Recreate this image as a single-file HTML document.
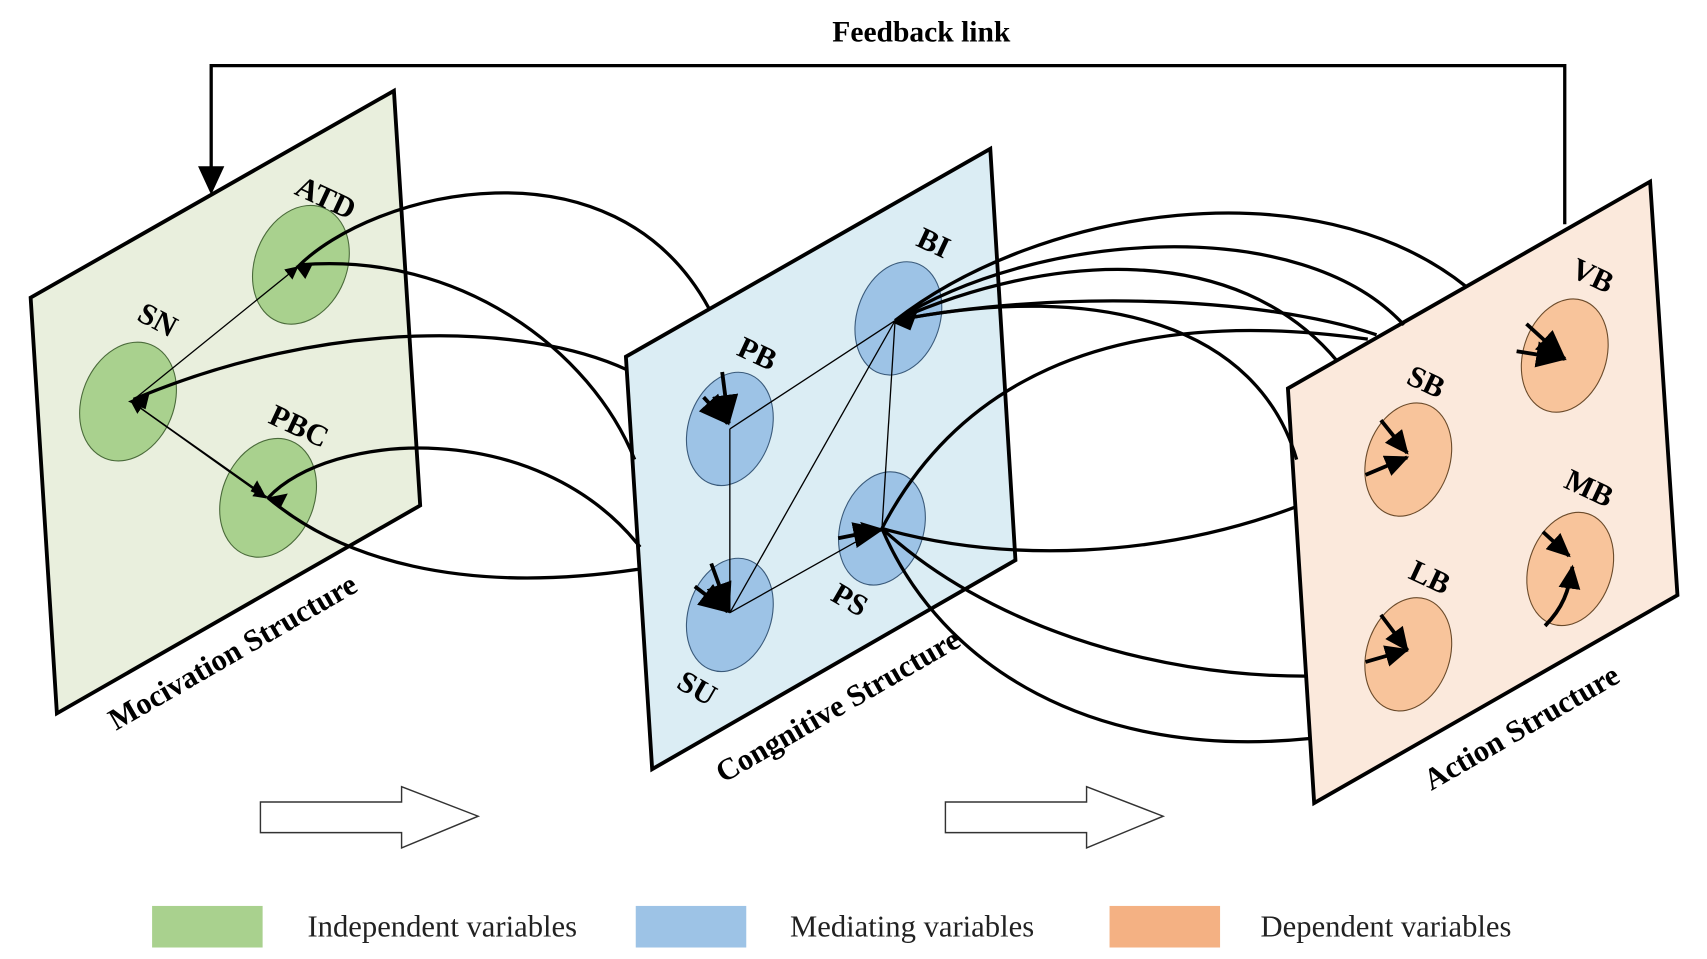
<!DOCTYPE html>
<html><head><meta charset="utf-8"><style>
html,body{margin:0;padding:0;background:#fff;}
svg{display:block;}
text{font-family:"Liberation Serif",serif;}
</style></head><body>
<svg width="1707" height="959" viewBox="0 0 1560 876.5" preserveAspectRatio="none" xmlns="http://www.w3.org/2000/svg">
<defs>
<marker id="ah" markerWidth="12" markerHeight="12" refX="11" refY="6" orient="auto" markerUnits="userSpaceOnUse"><path d="M0,0 L12,6 L0,12 z" fill="#000"/></marker>
<marker id="big" markerWidth="28" markerHeight="24" refX="26" refY="12" orient="auto" markerUnits="userSpaceOnUse"><path d="M0,0 L28,12 L0,24 z" fill="#000"/></marker>
<marker id="mid" markerWidth="22" markerHeight="20" refX="20" refY="10" orient="auto" markerUnits="userSpaceOnUse"><path d="M0,0 L22,10 L0,20 z" fill="#000"/></marker>
</defs>

<text x="842" y="38" font-size="27" font-weight="bold" text-anchor="middle">Feedback link</text>
<polyline points="1430,205 1430,60 193,60 193,160" fill="none" stroke="#000" stroke-width="3"/>
<path d="M181,152 L205,152 L193,178 z" fill="#000"/>

<polygon points="28,272 360,83 384,462 52,652" fill="#e9efdd" stroke="#000" stroke-width="3.5"/>
<polygon points="572,326 905,136 928,512 596,703" fill="#dbedf4" stroke="#000" stroke-width="3.5"/>
<polygon points="1177,355 1508,166 1533,544 1201,734" fill="#fbe9dc" stroke="#000" stroke-width="3.5"/>

<ellipse cx="275" cy="242" rx="42" ry="56" transform="rotate(22 275 242)" fill="#a9d18e" stroke="#4a6a3a" stroke-width="1"/>
<ellipse cx="117" cy="367" rx="42" ry="56" transform="rotate(22 117 367)" fill="#a9d18e" stroke="#4a6a3a" stroke-width="1"/>
<ellipse cx="245" cy="455" rx="42" ry="56" transform="rotate(22 245 455)" fill="#a9d18e" stroke="#4a6a3a" stroke-width="1"/>
<ellipse cx="667" cy="392" rx="38" ry="53" transform="rotate(18 667 392)" fill="#9dc3e6" stroke="#3a5a7a" stroke-width="1"/>
<ellipse cx="821" cy="291" rx="38" ry="53" transform="rotate(18 821 291)" fill="#9dc3e6" stroke="#3a5a7a" stroke-width="1"/>
<ellipse cx="667" cy="562" rx="38" ry="53" transform="rotate(18 667 562)" fill="#9dc3e6" stroke="#3a5a7a" stroke-width="1"/>
<ellipse cx="806" cy="483" rx="38" ry="53" transform="rotate(18 806 483)" fill="#9dc3e6" stroke="#3a5a7a" stroke-width="1"/>
<ellipse cx="1287" cy="420" rx="38" ry="53" transform="rotate(18 1287 420)" fill="#f8c49b" stroke="#6a4a2a" stroke-width="1"/>
<ellipse cx="1430" cy="325" rx="38" ry="53" transform="rotate(18 1430 325)" fill="#f8c49b" stroke="#6a4a2a" stroke-width="1"/>
<ellipse cx="1287" cy="598" rx="38" ry="53" transform="rotate(18 1287 598)" fill="#f8c49b" stroke="#6a4a2a" stroke-width="1"/>
<ellipse cx="1435" cy="520" rx="38" ry="53" transform="rotate(18 1435 520)" fill="#f8c49b" stroke="#6a4a2a" stroke-width="1"/>

<g stroke="#000" stroke-width="1.2" fill="none">
<line x1="120" y1="367" x2="272" y2="244" marker-end="url(#ah)"/>
<line x1="245" y1="455" x2="120" y2="367" marker-end="url(#ah)"/>
<line x1="120" y1="367" x2="243" y2="455" marker-end="url(#ah)"/>
<line x1="667" y1="392" x2="818" y2="293"/>
<line x1="667" y1="392" x2="667" y2="560"/>
<line x1="667" y1="560" x2="818" y2="293"/>
<line x1="667" y1="560" x2="804" y2="483"/>
<line x1="806" y1="483" x2="818" y2="293"/>
</g>

<g stroke="#000" stroke-width="3" fill="none">
<path d="M272,244 C340,175 560,120 648,282"/>
<path d="M275,242 C420,230 540,320 580,420"/>
<path d="M573,338 C480,295 300,290 122,365"/>
<path d="M245,455 C300,395 490,380 585,500"/>
<path d="M245,455 C310,510 420,545 585,520"/>
<path d="M818,293 C950,190 1200,150 1340,262"/>
<path d="M818,293 C950,210 1190,195 1283,297"/>
<path d="M818,293 C960,230 1130,220 1222,330"/>
<path d="M818,293 C960,265 1150,270 1258,306"/>
<path d="M818,293 C1010,255 1150,300 1185,420"/>
<path d="M806,483 C870,360 1000,275 1250,310"/>
<path d="M806,483 C920,515 1060,510 1185,463"/>
<path d="M806,483 C900,570 1050,618 1193,618"/>
<path d="M806,483 C860,610 1000,695 1197,675"/>
</g>
<path d="M270,243 l16,-2 l-7,14 z" fill="#000"/>
<path d="M117,367 l20,-9 l-4,16 z" fill="#000"/>
<path d="M243,455 l-14,-6 l6,-10 z" fill="#000"/>
<path d="M243,455 l20,-4 l-7,14 z" fill="#000"/>
<path d="M816,295 l22,-9 l-6,16 z" fill="#000"/>
<path d="M806,483 l-20,-6 l6,12 z" fill="#000"/>

<g stroke="#000" stroke-width="3.5" fill="none">
<line x1="660" y1="340" x2="666" y2="387" marker-end="url(#big)"/>
<line x1="643" y1="363" x2="665" y2="387" marker-end="url(#big)"/>
<line x1="650" y1="515" x2="666" y2="559" marker-end="url(#big)"/>
<line x1="635" y1="536" x2="665" y2="559" marker-end="url(#big)"/>
<line x1="766" y1="492" x2="806" y2="484" marker-end="url(#big)"/>
<line x1="1395" y1="296" x2="1430" y2="328" marker-end="url(#big)"/>
<line x1="1386" y1="321" x2="1430" y2="328" marker-end="url(#big)"/>
<line x1="1262" y1="384" x2="1286" y2="414" marker-end="url(#mid)"/>
<line x1="1248" y1="434" x2="1286" y2="418" marker-end="url(#mid)"/>
<line x1="1262" y1="562" x2="1286" y2="594" marker-end="url(#mid)"/>
<line x1="1248" y1="605" x2="1286" y2="594" marker-end="url(#mid)"/>
<line x1="1410" y1="486" x2="1434" y2="508" marker-end="url(#mid)"/>
<path d="M1412,572 C1428,556 1434,540 1437,518" marker-end="url(#mid)"/>
</g>

<g font-size="28" font-weight="bold">
<text transform="translate(268,177) rotate(25)">ATD</text>
<text transform="translate(124,292) rotate(28)">SN</text>
<text transform="translate(244,386) rotate(25)">PBC</text>
<text transform="translate(672,324) rotate(25)">PB</text>
<text transform="translate(836,224) rotate(25)">BI</text>
<text transform="translate(617,628) rotate(30)">SU</text>
<text transform="translate(758,548) rotate(30)">PS</text>
<text transform="translate(1284,350) rotate(25)">SB</text>
<text transform="translate(1434,252) rotate(25)">VB</text>
<text transform="translate(1286,528) rotate(25)">LB</text>
<text transform="translate(1428,445) rotate(25)">MB</text>
</g>
<g font-size="28" font-weight="bold">
<text transform="translate(106,668) rotate(-30)">Mocivation Structure</text>
<text transform="translate(661,716) rotate(-30)">Congnitive Structure</text>
<text transform="translate(1308,723) rotate(-30)">Action Structure</text>
</g>

<path d="M238,733 L367,733 L367,719 L437,746 L367,775 L367,761 L238,761 z" fill="#fff" stroke="#333" stroke-width="1.3"/>
<path d="M864,733 L993,733 L993,719 L1063,746 L993,775 L993,761 L864,761 z" fill="#fff" stroke="#333" stroke-width="1.3"/>

<rect x="139" y="828" width="101" height="38" fill="#a9d18e"/>
<rect x="581" y="828" width="101" height="38" fill="#9dc3e6"/>
<rect x="1014" y="828" width="101" height="38" fill="#f4b183"/>
<g font-size="28" fill="#222">
<text x="281" y="856">Independent variables</text>
<text x="722" y="856">Mediating variables</text>
<text x="1152" y="856">Dependent variables</text>
</g>
</svg>
</body></html>
